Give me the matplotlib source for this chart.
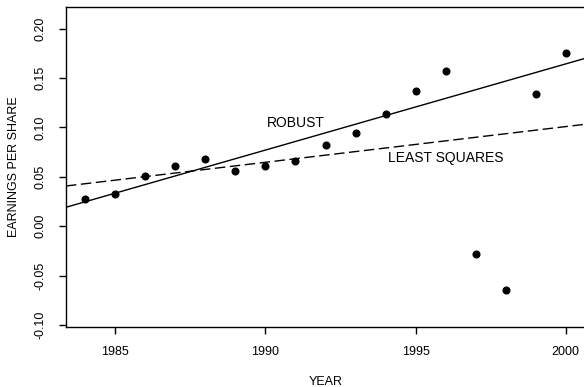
import numpy as np
import matplotlib
matplotlib.use("Agg")
import matplotlib.pyplot as plt

plt.rcParams['font.family'] = ['Liberation Sans', 'DejaVu Sans']
plt.rcParams['axes.unicode_minus'] = False

# earnings per share by year
years = [1984, 1985, 1986, 1987, 1988, 1989, 1990, 1991, 1992,
         1993, 1994, 1995, 1996, 1997, 1998, 1999, 2000]
eps = [0.028, 0.033, 0.051, 0.061, 0.068, 0.056, 0.061, 0.066, 0.082,
       0.094, 0.114, 0.137, 0.157, -0.028, -0.065, 0.134, 0.175]

# robust fit: value at 1992 and slope per year
robust_at_1992 = 0.0946
robust_slope = 0.008725

x_ticks = [1985, 1990, 1995, 2000]
y_ticks = [-0.10, -0.05, 0.00, 0.05, 0.10, 0.15, 0.20]

x = np.array(years, dtype=float)
y = np.array(eps)
ls_slope, ls_int = np.polyfit(x, y, 1)

fig = plt.figure(figsize=(5.84, 3.87), dpi=100)
ax = fig.add_axes([66 / 584, 1 - 327 / 387, 519 / 584, 320 / 387])

xlim = (1983.36, 2000.64)
xx = np.array(xlim)
ax.plot(x, y, 'o', color='black', ms=4.8, zorder=3)
ax.plot(xx, robust_at_1992 + robust_slope * (xx - 1992), color='black', lw=1.0)
ax.plot(xx, ls_int + ls_slope * xx, color='black', lw=1.0, dashes=(7.5, 3.3))

ax.text(1991, 0.105, "ROBUST", ha='center', va='center', fontsize=10)
ax.text(1996, 0.069, "LEAST SQUARES", ha='center', va='center', fontsize=10)

ax.set_xlim(*xlim)
ax.set_ylim(-0.102, 0.222)
ax.set_xticks(x_ticks)
ax.set_xticklabels([str(t) for t in x_ticks])
ax.set_yticks(y_ticks)
ax.set_yticklabels(["%.2f" % t for t in y_ticks], rotation=90, va='center')

ax.tick_params(direction='out', length=5, width=1, labelsize=9, color='black')
ax.tick_params(axis='x', pad=9)
ax.tick_params(axis='y', pad=9)

for s in ax.spines.values():
    s.set_linewidth(1.0)

ax.set_xlabel("YEAR", fontsize=9, va='center')
ax.xaxis.set_label_coords(0.5, -0.171)
ax.set_ylabel("EARNINGS PER SHARE", fontsize=9, va='center')
ax.yaxis.set_label_coords(-0.100, 0.5)

fig.savefig("out.png", dpi=100)
